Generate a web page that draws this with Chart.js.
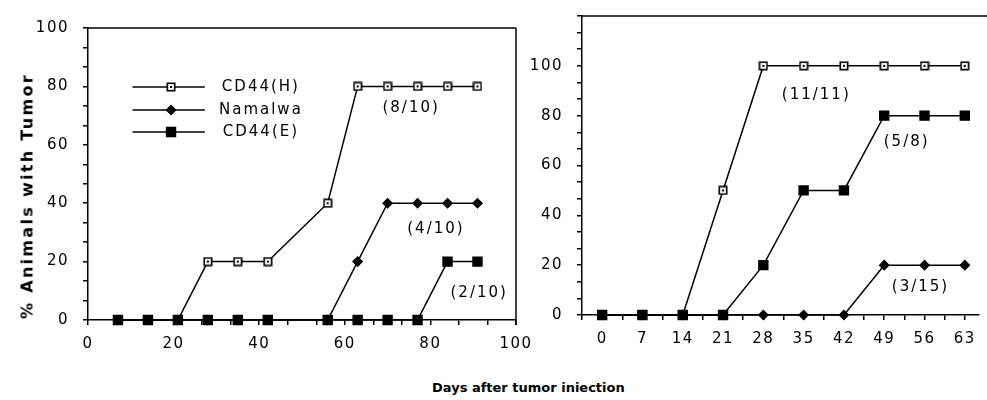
<!DOCTYPE html>
<html>
<head>
<meta charset="utf-8">
<script src="https://cdn.jsdelivr.net/npm/chart.js@4"></script>
<style>
  body { margin: 0; background: #fff; }
  #wrap { position: relative; width: 987px; height: 400px; overflow: hidden; }
  canvas { position: absolute; top: 0; }
  .ytitle {
    position: absolute; left: 27px; top: 196px; white-space: nowrap;
    transform: translate(-50%, -50%) rotate(-90deg);
    font: bold 16px "DejaVu Sans"; letter-spacing: 2.3px; color: #000;
  }
  .xtitle {
    position: absolute; left: 432px; top: 380px; white-space: nowrap;
    font: bold 13px "DejaVu Sans"; color: #000;
  }
</style>
</head>
<body>
<div id="wrap">
  <canvas id="leftChart" width="540" height="360" style="left:0"></canvas>
  <canvas id="rightChart" width="462" height="360" style="left:525px"></canvas>
  <div class="ytitle">% Animals with Tumor</div>
  <div class="xtitle">Days after tumor iniection</div>
</div>
<script>
// ---- data, left panel
const leftDays = [7, 14, 21, 28, 35, 42, 56, 63, 70, 77, 84, 91];
const leftCD44H = [0, 0, 0, 20, 20, 20, 40, 80, 80, 80, 80, 80];
const leftNamalwa = [0, 0, 0, 0, 0, 0, 0, 20, 40, 40, 40, 40];
const leftCD44E = [0, 0, 0, 0, 0, 0, 0, 0, 0, 0, 20, 20];
const leftXLabels = [0, 20, 40, 60, 80, 100];
const leftYLabels = [0, 20, 40, 60, 80, 100];
const leftNotes = [
  { text: '(8/10)', x: 75.5, y: 72.5 },
  { text: '(4/10)', x: 81.3, y: 31 },
  { text: '(2/10)', x: 91.4, y: 9.2 },
];

// ---- data, right panel
const rightDays = [0, 7, 14, 21, 28, 35, 42, 49, 56, 63];
const rightCD44H = [0, 0, 0, 50, 100, 100, 100, 100, 100, 100];
const rightNamalwa = [0, 0, 0, 0, 0, 0, 0, 20, 20, 20];
const rightCD44E = [0, 0, 0, 0, 20, 50, 50, 80, 80, 80];
const rightXLabels = [0, 7, 14, 21, 28, 35, 42, 49, 56, 63];
const rightYLabels = [0, 20, 40, 60, 80, 100];
const rightNotes = [
  { text: '(11/11)', x: 37.2, y: 88.4 },
  { text: '(5/8)', x: 52.9, y: 69.5 },
  { text: '(3/15)', x: 55.3, y: 11.2 },
];

const seriesNames = ['CD44(H)', 'Namalwa', 'CD44(E)'];

// open square with a dot in the middle
function openSquare() {
  const c = document.createElement('canvas');
  c.width = 10; c.height = 10;
  const g = c.getContext('2d');
  g.fillStyle = '#fff';
  g.fillRect(1, 1, 8, 8);
  g.strokeStyle = '#000';
  g.lineWidth = 1.6;
  g.strokeRect(1.3, 1.3, 7.4, 7.4);
  g.fillStyle = '#000';
  g.fillRect(4, 4, 2, 2);
  return c;
}
const sqImg = openSquare();

function pts(xs, ys) {
  return xs.map((x, i) => ({ x: x, y: ys[i] }));
}

function makeDatasets(days, h, n, e) {
  const base = { borderColor: '#000', borderWidth: 1.5, fill: false, tension: 0, clip: false };
  // filled markers sit on top of the open squares along the baseline
  return [
    Object.assign({}, base, { label: seriesNames[0], data: pts(days, h), pointStyle: sqImg, pointRadius: 5, order: 3 }),
    Object.assign({}, base, { label: seriesNames[1], data: pts(days, n), pointStyle: 'rectRot', pointRadius: 4.5, backgroundColor: '#000', order: 2 }),
    Object.assign({}, base, { label: seriesNames[2], data: pts(days, e), pointStyle: 'rect', pointRadius: 6.3, backgroundColor: '#000', order: 1 }),
  ];
}

// major + minor ticks, only the majors get text
function axis(min, max, step, labels, sizeKey, size, pad) {
  return {
    type: 'linear',
    min: min,
    max: max,
    afterBuildTicks: (s) => {
      const t = [];
      for (let k = Math.ceil(min / step - 1e-6); k * step <= max + 1e-6; k++) {
        t.push({ value: k * step });
      }
      s.ticks = t;
    },
    afterFit: (s) => {
      s[sizeKey] = size;
      s.paddingLeft = 0; s.paddingRight = 0; s.paddingTop = 0; s.paddingBottom = 0;
    },
    grid: { drawOnChartArea: false, color: '#000', lineWidth: 1.5, tickLength: 5 },
    border: { color: '#000', width: 1.5 },
    ticks: {
      autoSkip: false,
      maxRotation: 0,
      padding: pad,
      color: '#000',
      font: { family: 'DejaVu Sans', size: 15 },
      callback: (v) => {
        const m = labels.find((l) => Math.abs(l - v) < 1e-6);
        return m === undefined ? '' : String(m);
      },
    },
  };
}

const spacing = {
  id: 'spacing',
  beforeDraw(chart) { chart.ctx.letterSpacing = '1.5px'; },
  beforeUpdate(chart) { chart.ctx.letterSpacing = '1.5px'; },
};

// box lines, notes and the inline key
const extras = {
  id: 'extras',
  afterDraw(chart, args, o) {
    const ctx = chart.ctx;
    const a = chart.chartArea;
    const sx = chart.scales.x, sy = chart.scales.y;
    ctx.save();
    ctx.strokeStyle = '#000';
    ctx.lineWidth = 1.5;
    ctx.beginPath();
    ctx.moveTo(a.left, a.top);
    ctx.lineTo(o.topEnd === 'edge' ? chart.width : a.right, a.top);
    if (o.rightSide) {
      ctx.moveTo(a.right, a.top);
      ctx.lineTo(a.right, a.bottom + 5);
    }
    ctx.stroke();

    ctx.fillStyle = '#000';
    ctx.font = '15px "DejaVu Sans"';
    ctx.letterSpacing = '2px';
    ctx.textAlign = 'center';
    ctx.textBaseline = 'middle';
    o.notes.forEach((n) => {
      ctx.fillText(n.text, sx.getPixelForValue(n.x), sy.getPixelForValue(n.y));
    });

    if (o.legend) {
      const L = o.legend;
      seriesNames.forEach((name, i) => {
        const ds = chart.data.datasets[i];
        const y = sy.getPixelForValue(L.ys[i]);
        ctx.beginPath();
        ctx.lineWidth = 1.5;
        ctx.moveTo(sx.getPixelForValue(L.x1), y);
        ctx.lineTo(sx.getPixelForValue(L.x2), y);
        ctx.stroke();
        Chart.helpers.drawPoint(ctx, {
          pointStyle: ds.pointStyle, radius: ds.pointRadius, borderWidth: 1.5, rotation: 0,
        }, sx.getPixelForValue(L.mid), y);
        if (ds.backgroundColor === '#000') ctx.fill();
        ctx.fillText(name, sx.getPixelForValue(L.textX), y);
      });
    }
    ctx.restore();
  },
};

const leftChart = new Chart(document.getElementById('leftChart'), {
  type: 'line',
  data: { datasets: makeDatasets(leftDays, leftCD44H, leftNamalwa, leftCD44E) },
  options: {
    responsive: false,
    animation: false,
    layout: { padding: { left: 0, top: 28, right: 24, bottom: 0 } },
    plugins: {
      legend: { display: false },
      tooltip: { enabled: false },
      extras: {
        notes: leftNotes,
        rightSide: true,
        legend: { x1: 10.4, x2: 27.3, mid: 19.4, textX: 40.4, ys: [79.8, 71.9, 64.4] },
      },
    },
    scales: {
      x: axis(0, 100, 20 / 3, leftXLabels, 'height', 40, 10),
      y: axis(0, 100, 20 / 3, leftYLabels, 'width', 88, 14),
    },
  },
  plugins: [spacing, extras],
});

const rightChart = new Chart(document.getElementById('rightChart'), {
  type: 'line',
  data: { datasets: makeDatasets(rightDays, rightCD44H, rightNamalwa, rightCD44E) },
  options: {
    responsive: false,
    animation: false,
    layout: { padding: { left: 0, top: 16, right: 0, bottom: 0 } },
    plugins: {
      legend: { display: false },
      tooltip: { enabled: false },
      extras: { notes: rightNotes, topEnd: 'edge' },
    },
    scales: {
      x: axis(-3.5, 65.5, 3.5, rightXLabels, 'height', 45, 10),
      y: axis(0, 120, 20 / 3, rightYLabels, 'width', 57, 14),
    },
  },
  plugins: [spacing, extras],
});
</script>
</body>
</html>
